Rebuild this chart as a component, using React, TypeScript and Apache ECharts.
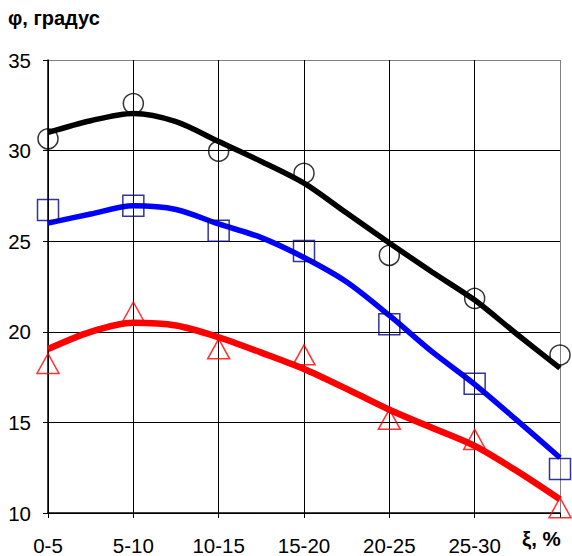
import React, { useEffect, useRef } from "react";
import * as echarts from "echarts";

const categories = ["0-5", "5-10", "10-15", "15-20", "20-25", "25-30"];
const yTicks = [10, 15, 20, 25, 30, 35];

// measured points (x index 0..6)
const circlePoints = [30.65, 32.6, 29.97, 28.75, 24.22, 21.84, 18.72];
const squarePoints = [26.72, 26.96, 25.57, 24.46, 20.42, 17.13, 12.43];
const trianglePoints = [18.25, 21.09, 19.06, 18.73, 15.17, 14.06, 10.29];

// trend curves, read at half-step positions
const trendX = [0, 0.5, 1, 1.5, 2, 2.5, 3, 3.5, 4, 4.5, 5, 5.5, 6];
const blackTrend = [31.0, 31.65, 32.05, 31.6, 30.5, 29.4, 28.2, 26.55, 24.9, 23.3, 21.75, 19.85, 18.0];
const blueTrend = [26.0, 26.5, 26.95, 26.75, 25.95, 25.2, 24.1, 22.75, 20.9, 18.9, 17.1, 15.1, 13.05];
const redTrend = [19.05, 20.0, 20.5, 20.35, 19.7, 18.85, 17.95, 16.85, 15.7, 14.7, 13.7, 12.3, 10.75];

const pairs = (xs: number[], ys: number[]) => xs.map((x, i) => [x, ys[i]]);
const idxPairs = (ys: number[]) => ys.map((y, i) => [i, y]);

export default function App() {
  const ref = useRef<HTMLDivElement>(null);
  useEffect(() => {
    if (!ref.current) return;
    const chart = echarts.init(ref.current, undefined, { renderer: "svg" });
    const font = "Arial, 'Liberation Sans', sans-serif";
    chart.setOption({
      animation: false,
      backgroundColor: "#fff",
      grid: { left: 48, right: 12, top: 60, bottom: 40, containLabel: false },
      xAxis: {
        type: "value",
        min: 0,
        max: 6,
        interval: 1,
        axisLine: { show: true, onZero: false, lineStyle: { color: "#000", width: 1.5 } },
        axisTick: { show: true, length: 5, lineStyle: { color: "#000" } },
        axisLabel: {
          margin: 22,
          color: "#000",
          fontSize: 20.5,
          fontFamily: font,
          formatter: (v: number) => (categories[Math.round(v)] ?? ""),
        },
        splitLine: {
          show: true,
          lineStyle: { color: ["#000", "#000", "#000", "#000", "#000", "#000", "#808080"], width: 1 },
        },
      },
      yAxis: {
        type: "value",
        min: yTicks[0],
        max: yTicks[yTicks.length - 1],
        interval: 5,
        axisLine: { show: true, lineStyle: { color: "#000", width: 1.5 } },
        axisTick: { show: true, length: 5, lineStyle: { color: "#000" } },
        axisLabel: { margin: 17, color: "#000", fontSize: 20.5, fontFamily: font },
        splitLine: {
          show: true,
          lineStyle: { color: ["#000", "#000", "#000", "#000", "#000", "#808080"], width: 1 },
        },
      },
      graphic: [
        {
          type: "text",
          left: 8,
          top: 8,
          style: { text: "φ, градус", font: `bold 20px ${font}`, fill: "#000" },
        },
        {
          type: "text",
          left: 522,
          top: 528,
          style: { text: "ξ, %", font: `bold 20.5px ${font}`, fill: "#000" },
        },
      ],
      series: [
        {
          type: "line",
          data: pairs(trendX, blackTrend),
          smooth: 0.3,
          showSymbol: false,
          lineStyle: { color: "#000", width: 5.5 },
          z: 2,
        },
        {
          type: "line",
          data: pairs(trendX, blueTrend),
          smooth: 0.3,
          showSymbol: false,
          lineStyle: { color: "#0000ff", width: 5.5 },
          z: 2,
        },
        {
          type: "line",
          data: pairs(trendX, redTrend),
          smooth: 0.3,
          showSymbol: false,
          lineStyle: { color: "#ff0000", width: 6.5 },
          z: 2,
        },
        {
          type: "scatter",
          data: idxPairs(circlePoints),
          symbol: "circle",
          symbolSize: 20,
          itemStyle: { color: "rgba(0,0,0,0)", borderColor: "#000", borderWidth: 1.5 },
          z: 3,
        },
        {
          type: "scatter",
          data: idxPairs(squarePoints),
          symbol: "rect",
          symbolSize: 21,
          itemStyle: { color: "rgba(0,0,0,0)", borderColor: "#000080", borderWidth: 1.5 },
          z: 3,
        },
        {
          type: "scatter",
          data: idxPairs(trianglePoints),
          symbol: "triangle",
          symbolSize: [22, 20],
          itemStyle: { color: "rgba(0,0,0,0)", borderColor: "#ff0000", borderWidth: 1.5 },
          z: 3,
        },
      ],
    });
    return () => chart.dispose();
  }, []);
  return (
    <div
      ref={ref}
      style={{ position: "fixed", left: 0, top: 0, width: 572, height: 556 }}
    />
  );
}
